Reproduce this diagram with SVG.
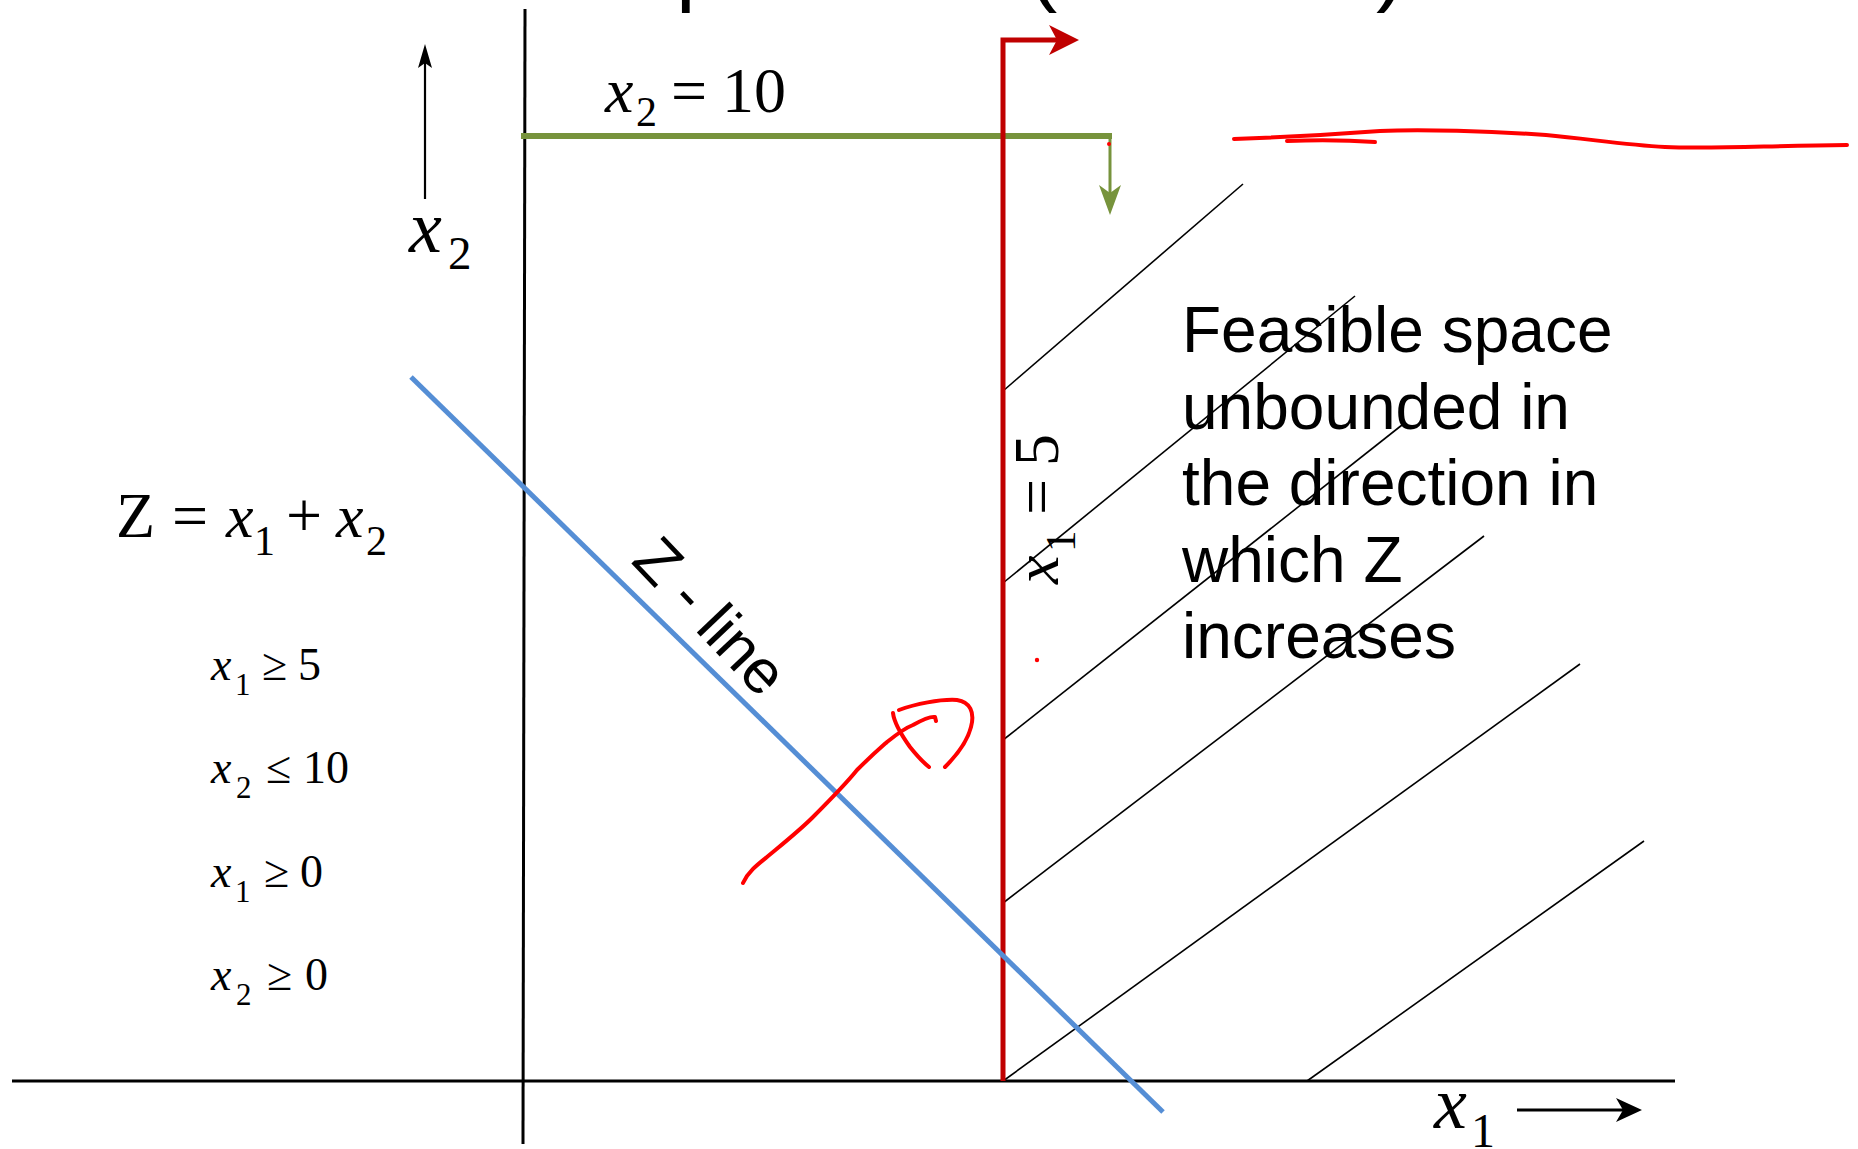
<svg xmlns="http://www.w3.org/2000/svg" width="1858" height="1149" viewBox="0 0 1858 1149">
  <defs>
    <style>
      .serif { font-family: "Liberation Serif", "Times New Roman", serif; fill: #000; }
      .it { font-style: italic; }
      .sans { font-family: "Liberation Sans", Arial, sans-serif; fill: #000; }
      .axis { stroke: #000; stroke-width: 3; fill: none; }
      .hatch { stroke: #000; stroke-width: 1.6; fill: none; }
      .ink { stroke: #FF0000; stroke-width: 4; fill: none; stroke-linecap: round; stroke-linejoin: round; }
    </style>
    <marker id="arrBlackSmall" markerUnits="userSpaceOnUse" markerWidth="24" markerHeight="14" refX="5" refY="7" orient="auto" overflow="visible">
      <path d="M0,0 L24,7 L0,14 L5,7 Z" fill="#000"/>
    </marker>
    <marker id="arrBlack" markerUnits="userSpaceOnUse" markerWidth="26" markerHeight="24" refX="7" refY="12" orient="auto" overflow="visible">
      <path d="M0,0 L26,12 L0,24 L7,12 Z" fill="#000"/>
    </marker>
    <marker id="arrGreen" markerUnits="userSpaceOnUse" markerWidth="30" markerHeight="22" refX="8" refY="11" orient="auto" overflow="visible">
      <path d="M0,0 L30,11 L0,22 L8,11 Z" fill="#77933C"/>
    </marker>
    <marker id="arrRed" markerUnits="userSpaceOnUse" markerWidth="30" markerHeight="30" refX="8" refY="15" orient="auto" overflow="visible">
      <path d="M0,0 L30,15 L0,30 L8,15 Z" fill="#C00000"/>
    </marker>
  </defs>

  <rect x="0" y="0" width="1858" height="1149" fill="#FFFFFF"/>

  <!-- title fragments cut off at top edge -->
  <g id="title" class="sans" font-size="88">
    <text x="676" y="-5">p</text>
    <text x="1028" y="-5">(</text>
    <text x="1376" y="-5">)</text>
  </g>

  <g id="connectors">
    <g id="hatching">
      <line class="hatch" x1="1003" y1="391" x2="1243" y2="184"/>
      <line class="hatch" x1="1003" y1="583" x2="1355" y2="296"/>
      <line class="hatch" x1="1003" y1="740" x2="1402" y2="425"/>
      <line class="hatch" x1="1003" y1="903" x2="1484" y2="536"/>
      <line class="hatch" x1="1003" y1="1081" x2="1580" y2="664"/>
      <line class="hatch" x1="1307" y1="1081" x2="1644" y2="841"/>
    </g>
    <line id="x1-axis" class="axis" x1="12" y1="1081" x2="1675" y2="1081"/>
    <line id="x2-axis" class="axis" x1="525" y1="9" x2="523" y2="1144"/>
    <line id="x2-arrow" stroke="#000" stroke-width="2.2" x1="425" y1="199" x2="425" y2="63" marker-end="url(#arrBlackSmall)"/>
    <line id="x1-arrow" stroke="#000" stroke-width="3" x1="1517" y1="1110" x2="1623" y2="1110" marker-end="url(#arrBlack)"/>
    <line id="x2-10" stroke="#77933C" stroke-width="6" x1="521" y1="136" x2="1112" y2="136"/>
    <line id="x2-10-dir" stroke="#77933C" stroke-width="3" x1="1110" y1="136" x2="1110" y2="193" marker-end="url(#arrGreen)"/>
    <polyline id="x1-5" fill="none" stroke="#C00000" stroke-width="5" points="1003,1081 1003,40 1057,40" marker-end="url(#arrRed)"/>
    <line id="z-line" stroke="#558ED5" stroke-width="5" x1="411" y1="377" x2="1163" y2="1112"/>
  </g>

  <g id="label-x2-axis" class="serif">
    <text class="it" x="409" y="252" font-size="74">x</text>
    <text x="448" y="269" font-size="47">2</text>
  </g>
  <g id="label-x1-axis" class="serif">
    <text class="it" x="1434" y="1128" font-size="74">x</text>
    <text x="1471" y="1147" font-size="48">1</text>
  </g>
  <g id="label-x2-10" class="serif">
    <text class="it" x="605" y="112" font-size="64">x</text>
    <text x="636" y="126" font-size="42">2</text>
    <text x="671" y="112" font-size="64">=</text>
    <text x="722" y="112" font-size="64">10</text>
  </g>
  <g id="label-x1-5" class="serif" transform="translate(1058,584) rotate(-90)">
    <text class="it" x="0" y="0" font-size="64">x</text>
    <text x="32" y="17" font-size="43">1</text>
    <text x="69" y="0" font-size="64">=</text>
    <text x="118" y="0" font-size="64">5</text>
  </g>
  <g id="label-z-line" class="sans" transform="translate(630,562) rotate(46.5)">
    <text x="0" y="0" font-size="62">Z - line</text>
  </g>

  <g id="objective" class="serif">
    <text x="116" y="537" font-size="64">Z</text>
    <text x="172" y="537" font-size="64">=</text>
    <text class="it" x="226" y="537" font-size="62">x</text>
    <text x="254" y="555" font-size="42">1</text>
    <text x="286" y="537" font-size="64">+</text>
    <text class="it" x="336" y="537" font-size="62">x</text>
    <text x="366" y="555" font-size="42">2</text>
  </g>

  <g id="constraints" class="serif" font-size="46">
    <g id="c1">
      <text class="it" x="211" y="680">x</text>
      <text x="235" y="695" font-size="31">1</text>
      <text x="262" y="680">≥</text>
      <text x="298" y="680">5</text>
    </g>
    <g id="c2">
      <text class="it" x="211" y="783">x</text>
      <text x="236" y="798" font-size="31">2</text>
      <text x="266" y="783">≤</text>
      <text x="303" y="783">10</text>
    </g>
    <g id="c3">
      <text class="it" x="211" y="887">x</text>
      <text x="235" y="902" font-size="31">1</text>
      <text x="264" y="887">≥</text>
      <text x="300" y="887">0</text>
    </g>
    <g id="c4">
      <text class="it" x="211" y="990">x</text>
      <text x="236" y="1005" font-size="31">2</text>
      <text x="267" y="990">≥</text>
      <text x="305" y="990">0</text>
    </g>
  </g>

  <g id="feasible-note" class="sans" font-size="64">
    <text x="1182" y="352">Feasible space</text>
    <text x="1182" y="429">unbounded in</text>
    <text x="1182" y="505">the direction in</text>
    <text x="1182" y="582">which Z</text>
    <text x="1182" y="658">increases</text>
  </g>

  <g id="annotations">
    <path class="ink" d="M1234,139 C1290,137 1340,134 1380,131 C1420,129 1490,131 1546,135 C1590,139 1625,145 1665,147 C1710,149 1760,146 1847,145"/>
    <path class="ink" d="M1287,141 C1315,140 1345,140 1375,142"/>
    <path class="ink" d="M743,883 C748,872 757,865 767,857 C785,842 800,830 812,818 C830,800 845,785 857,770 C870,757 878,750 887,742 C897,734 905,728 913,725 C922,720 930,716 935,717 L936,721"/>
    <path class="ink" d="M893,713 C894,722 900,733 910,747 C918,757 924,763 929,767"/>
    <path class="ink" d="M899,710 C915,704 940,699 957,700 C970,702 975,712 971,727 C967,743 955,757 945,767"/>
    <circle cx="1037" cy="660" r="2.2" fill="#FF0000"/>
    <circle cx="1109" cy="144" r="2" fill="#FF0000"/>
  </g>
</svg>
